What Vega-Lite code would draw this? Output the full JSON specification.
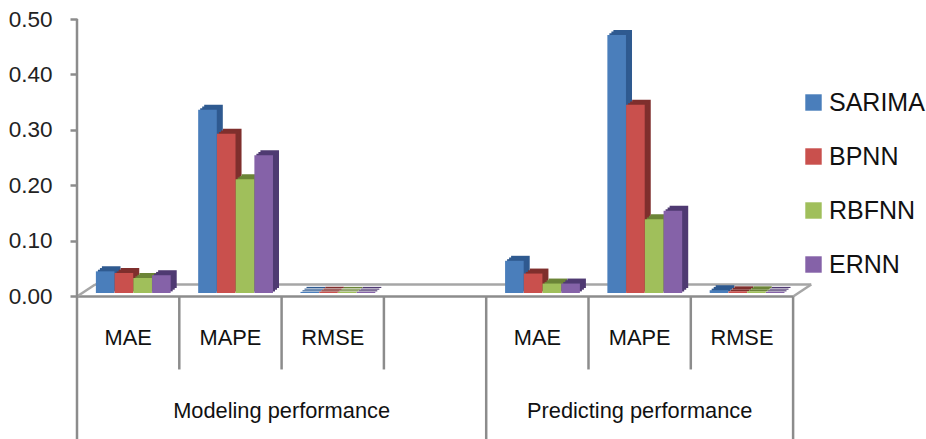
{
"$schema":"https://vega.github.io/schema/vega-lite/v6.json",
"width":818.4,"height":420,
"autosize":{"type":"none"},
"padding":{"left":77,"top":19,"right":30.6,"bottom":0},
"background":"white",
"datasets":{
"bars":[
{"group":"Modeling performance","slot":"s1","metric":"MAE","series":"SARIMA","value":0.039},
{"group":"Modeling performance","slot":"s1","metric":"MAE","series":"BPNN","value":0.036},
{"group":"Modeling performance","slot":"s1","metric":"MAE","series":"RBFNN","value":0.027},
{"group":"Modeling performance","slot":"s1","metric":"MAE","series":"ERNN","value":0.032},
{"group":"Modeling performance","slot":"s2","metric":"MAPE","series":"SARIMA","value":0.33},
{"group":"Modeling performance","slot":"s2","metric":"MAPE","series":"BPNN","value":0.287},
{"group":"Modeling performance","slot":"s2","metric":"MAPE","series":"RBFNN","value":0.205},
{"group":"Modeling performance","slot":"s2","metric":"MAPE","series":"ERNN","value":0.248},
{"group":"Modeling performance","slot":"s3","metric":"RMSE","series":"SARIMA","value":0.002},
{"group":"Modeling performance","slot":"s3","metric":"RMSE","series":"BPNN","value":0.002},
{"group":"Modeling performance","slot":"s3","metric":"RMSE","series":"RBFNN","value":0.002},
{"group":"Modeling performance","slot":"s3","metric":"RMSE","series":"ERNN","value":0.002},
{"group":"Predicting performance","slot":"s5","metric":"MAE","series":"SARIMA","value":0.058},
{"group":"Predicting performance","slot":"s5","metric":"MAE","series":"BPNN","value":0.035},
{"group":"Predicting performance","slot":"s5","metric":"MAE","series":"RBFNN","value":0.017},
{"group":"Predicting performance","slot":"s5","metric":"MAE","series":"ERNN","value":0.017},
{"group":"Predicting performance","slot":"s6","metric":"MAPE","series":"SARIMA","value":0.465},
{"group":"Predicting performance","slot":"s6","metric":"MAPE","series":"BPNN","value":0.339},
{"group":"Predicting performance","slot":"s6","metric":"MAPE","series":"RBFNN","value":0.133},
{"group":"Predicting performance","slot":"s6","metric":"MAPE","series":"ERNN","value":0.148},
{"group":"Predicting performance","slot":"s7","metric":"RMSE","series":"SARIMA","value":0.005},
{"group":"Predicting performance","slot":"s7","metric":"RMSE","series":"BPNN","value":0.003},
{"group":"Predicting performance","slot":"s7","metric":"RMSE","series":"RBFNN","value":0.003},
{"group":"Predicting performance","slot":"s7","metric":"RMSE","series":"ERNN","value":0.002}
],
"short":[{"slot":"s2"},{"slot":"s3"},{"slot":"s4"},{"slot":"s6"},{"slot":"s7"}],
"long":[{"slot":"s5"},{"slot":"s8"}],
"axisline":[{"slot":"s1"}],
"cats":[{"slot":"s1","metric":"MAE"},{"slot":"s2","metric":"MAPE"},{"slot":"s3","metric":"RMSE"},{"slot":"s5","metric":"MAE"},{"slot":"s6","metric":"MAPE"},{"slot":"s7","metric":"RMSE"}],
"edges":[{"slot":"s1","end":"s8"}],
"corners":[{"slot":"s1"},{"slot":"s8"}]
},
"encoding":{
"x":{"field":"slot","type":"nominal","axis":null,"scale":{"domain":["s1","s2","s3","s4","s5","s6","s7","s8"],"paddingInner":0,"paddingOuter":0}}
},
"layer":[
{"data":{"name":"edges"},"mark":{"type":"rule","color":"#8c8c8c","strokeWidth":2.5,"x2Offset":-51},
 "encoding":{"x":{"field":"slot","type":"nominal","bandPosition":0},"x2":{"field":"end"},"y":{"datum":0,"type":"quantitative","title":null,
 "scale":{"domain":[-0.2568,0.5],"nice":false,"zero":false},
 "axis":{"values":[0,0.1,0.2,0.3,0.4,0.5],"format":".2f","title":null,"grid":false,"domain":false,"tickSize":7,"tickWidth":2.5,"tickColor":"#8c8c8c","labelFont":"Liberation Sans","labelFontSize":22.5,"labelColor":"#222","labelPadding":18}}}},
{"data":{"name":"edges"},"mark":{"type":"rule","color":"#a6a6a6","strokeWidth":2.5,"xOffset":18,"x2Offset":-33,"yOffset":-12},
 "encoding":{"x":{"field":"slot","type":"nominal","bandPosition":0},"x2":{"field":"end"},"y":{"datum":0,"title":null}}},
{"data":{"name":"corners"},"mark":{"type":"rule","color":"#a6a6a6","strokeWidth":2.5,"x2Offset":-33},
 "encoding":{"x":{"field":"slot","type":"nominal","bandPosition":0},"x2":{"field":"slot"},"y":{"datum":0,"title":null},"y2":{"datum":0.0216}}},
{"data":{"name":"axisline"},"mark":{"type":"rule","color":"#8c8c8c","strokeWidth":2.5},
 "encoding":{"x":{"field":"slot","type":"nominal","bandPosition":0},"y":{"datum":0.5,"title":null},"y2":{"datum":-0.2568}}},
{"data":{"name":"long"},"mark":{"type":"rule","color":"#8c8c8c","strokeWidth":2.5},
 "encoding":{"x":{"field":"slot","type":"nominal","bandPosition":0},"y":{"datum":0,"title":null},"y2":{"datum":-0.2568}}},
{"data":{"name":"short"},"mark":{"type":"rule","color":"#8c8c8c","strokeWidth":2.5},
 "encoding":{"x":{"field":"slot","type":"nominal","bandPosition":0},"y":{"datum":0,"title":null},"y2":{"datum":-0.1315}}},
{"data":{"name":"bars"},"mark":{"type":"bar","yOffset":-8.5,"y2Offset":-8.5,"width":18.6},
 "encoding":{"xOffset":{"field":"series","sort":["SARIMA","BPNN","RBFNN","ERNN"],"scale":{"paddingInner":0,"paddingOuter":0.73,"align":0.908}},"y":{"field":"value","type":"quantitative","title":null},"y2":{"datum":0},
 "color":{"field":"series","legend":null,"scale":{"domain":["SARIMA","BPNN","RBFNN","ERNN"],"range":["#2f5a90","#7f2f2d","#6b8437","#4f3a72"]}}}},
{"data":{"name":"bars"},"mark":{"type":"bar","yOffset":-6.8,"y2Offset":-6.8,"width":18.6},
 "encoding":{"xOffset":{"field":"series","sort":["SARIMA","BPNN","RBFNN","ERNN"],"scale":{"paddingInner":0,"paddingOuter":0.73,"align":0.835}},"y":{"field":"value","type":"quantitative","title":null},"y2":{"datum":0},
 "color":{"field":"series","legend":null,"scale":{"domain":["SARIMA","BPNN","RBFNN","ERNN"],"range":["#2f5a90","#7f2f2d","#6b8437","#4f3a72"]}}}},
{"data":{"name":"bars"},"mark":{"type":"bar","yOffset":-5.1,"y2Offset":-5.1,"width":18.6},
 "encoding":{"xOffset":{"field":"series","sort":["SARIMA","BPNN","RBFNN","ERNN"],"scale":{"paddingInner":0,"paddingOuter":0.73,"align":0.761}},"y":{"field":"value","type":"quantitative","title":null},"y2":{"datum":0},
 "color":{"field":"series","legend":null,"scale":{"domain":["SARIMA","BPNN","RBFNN","ERNN"],"range":["#2f5a90","#7f2f2d","#6b8437","#4f3a72"]}}}},
{"data":{"name":"bars"},"mark":{"type":"bar","yOffset":-3.5,"y2Offset":-3.5,"width":18.6},
 "encoding":{"xOffset":{"field":"series","sort":["SARIMA","BPNN","RBFNN","ERNN"],"scale":{"paddingInner":0,"paddingOuter":0.73,"align":0.6875}},"y":{"field":"value","type":"quantitative","title":null},"y2":{"datum":0},
 "color":{"field":"series","sort":["SARIMA","BPNN","RBFNN","ERNN"],"scale":{"domain":["SARIMA","BPNN","RBFNN","ERNN"],"range":["#4a7ebb","#c9504d","#a0bf5b","#8562a8"]},
 "legend":{"orient":"none","legendX":724,"legendY":71,"title":null,"symbolType":"square","symbolSize":270,"labelFontSize":25,"labelFont":"Liberation Sans","labelColor":"#111","rowPadding":28,"labelOffset":3,"symbolStrokeWidth":0}}}},
{"data":{"name":"cats"},"mark":{"type":"text","font":"Liberation Sans","fontSize":21.8,"color":"#111"},
 "encoding":{"text":{"field":"metric"},"y":{"datum":-0.0757,"title":null}}},
{"data":{"values":[{"slot":"s3","group":"Modeling performance"}]},"mark":{"type":"text","font":"Liberation Sans","fontSize":21.8,"color":"#111"},
 "encoding":{"x":{"field":"slot","type":"nominal","bandPosition":0},"text":{"field":"group"},"y":{"datum":-0.207,"title":null}}},
{"data":{"values":[{"slot":"s6","group":"Predicting performance"}]},"mark":{"type":"text","font":"Liberation Sans","fontSize":21.8,"color":"#111"},
 "encoding":{"text":{"field":"group"},"y":{"datum":-0.207,"title":null}}}
],
"resolve":{"scale":{"color":"independent","xOffset":"independent"}},
"config":{"view":{"stroke":null}}
}
